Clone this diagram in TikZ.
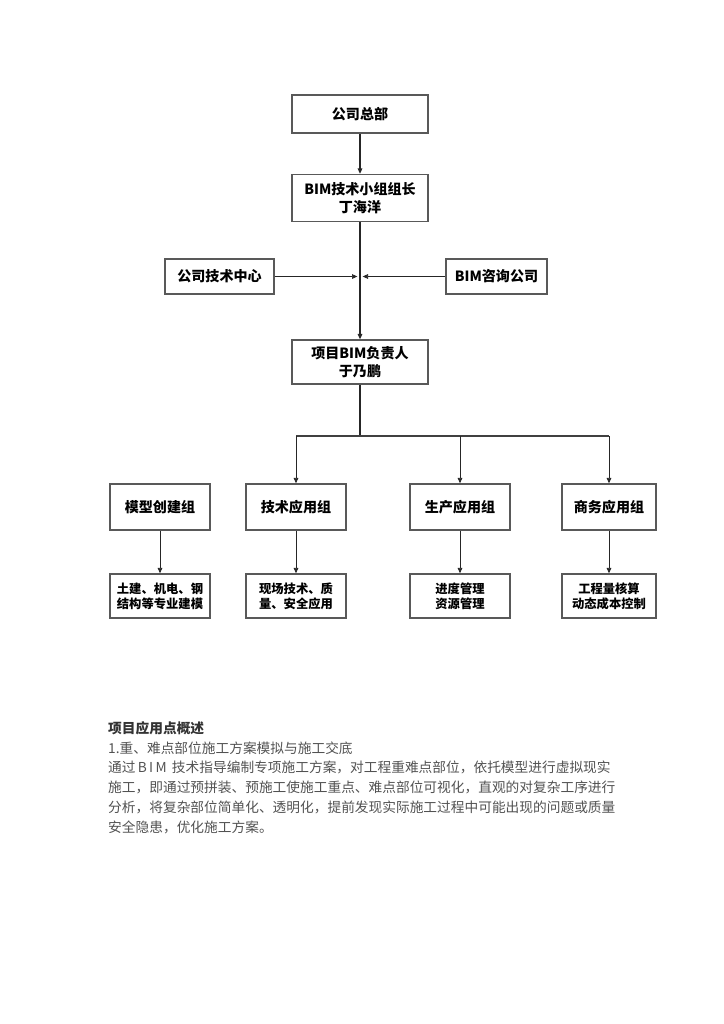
\documentclass[tikz,border=0pt]{standalone}
\usepackage{fontspec}
\newfontfamily\cjk{Noto Sans CJK SC}
\usetikzlibrary{positioning, arrows.meta, calc}
\tikzset{
  box/.style  = {draw=black!65, line width=1.3pt, align=center, inner sep=0pt,
                 font=\cjk\bfseries\fontsize{12}{15}\selectfont},
  leaf/.style = {box, minimum width=30mm, minimum height=13.2mm,
                 font=\cjk\bfseries\fontsize{10.5}{13}\selectfont},
  grp/.style  = {box, minimum width=30mm, minimum height=13.8mm},
  ar/.style   = {-{Triangle[length=1.6mm, width=1.4mm]}, line width=0.6pt, black!85},
  ln/.style   = {line width=0.9pt, black!85},
}

\begin{document}
\begin{tikzpicture}[x=0.3mm, y=-0.3mm]
  \useasboundingbox (0,0) rectangle (724,1024);
  % top of the chart
  \node[box, minimum width=40.8mm, minimum height=11.4mm] (hq) at (360,114) {公司总部};
  \node[box, minimum width=40.8mm, minimum height=14.1mm] (lead) at (360,198)
    {BIM技术小组组长\\丁海洋};
  \node[box, minimum width=32.7mm, minimum height=10.5mm] (tc) at (219.5,276.5) {公司技术中心};
  \node[box, minimum width=30.3mm, minimum height=10.5mm] (bc) at (496.5,276.5) {BIM咨询公司};
  \node[box, minimum width=40.8mm, minimum height=13.2mm] (pm) at (360,362)
    {项目BIM负责人\\于乃鹏};
  \coordinate (mid) at (360,276.5);
  \coordinate (bar) at (360,436);

  % groups and their tasks
  \node[grp] (g1) at (160,507) {模型创建组};
  \node[grp] (g2) at (296,507) {技术应用组};
  \node[grp] (g3) at (460,507) {生产应用组};
  \node[grp, minimum width=28.2mm] (g4) at (609,507) {商务应用组};
  \node[leaf] (l1) at (160,596) {土建、机电、钢\\结构等专业建模};
  \node[leaf] (l2) at (296,596) {现场技术、质\\量、安全应用};
  \node[leaf] (l3) at (460,596) {进度管理\\资源管理};
  \node[leaf, minimum width=28.2mm] (l4) at (609,596) {工程量核算\\动态成本控制};

  % connectors
  \draw[ar, ln] (hq) -- (lead);
  \draw[ar, ln] (lead) -- (pm);
  \draw[ar, shorten >=0.8mm] (tc) -- (mid);
  \draw[ar, shorten >=0.8mm] (bc) -- (mid);
  \draw[line width=1.4pt, black!85] (pm) -- (bar);
  \draw[line width=1.2pt, black!75] (g2.north |- bar) -- (g4.north |- bar);
  \foreach \g in {g2, g3, g4}{ \draw[ar] (\g.north |- bar) -- (\g.north); }
  \foreach \i in {1,...,4}{ \draw[ar] (g\i) -- (l\i); }

  % text below the chart
  \node[anchor=north west, align=left, inner sep=0pt, text=black!68,
        font=\cjk\fontsize{11.7}{17}\selectfont] (txt) at (108,721)
    {{\bfseries\color{black!80}项目应用点概述}\\
     1.重、难点部位施工方案模拟与施工交底\\
     通过\,B\,I\,M\, 技术指导编制专项施工方案，对工程重难点部位，依托模型进行虚拟现实\\
     施工，即通过预拼装、预施工使施工重点、难点部位可视化，直观的对复杂工序进行\\
     分析，将复杂部位简单化、透明化，提前发现实际施工过程中可能出现的问题或质量\\
     安全隐患，优化施工方案。};
\end{tikzpicture}
\end{document}
